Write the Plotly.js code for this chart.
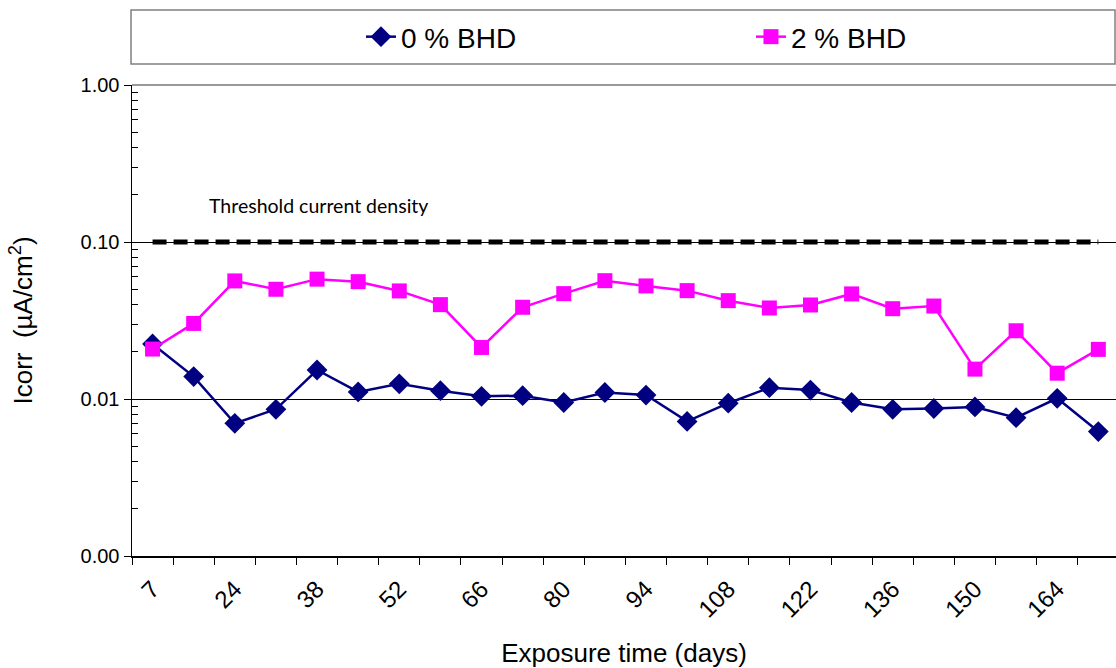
<!DOCTYPE html>
<html>
<head>
<meta charset="utf-8">
<script src="https://cdn.plot.ly/plotly-3.0.1.min.js"></script>
<style>html,body{margin:0;padding:0;background:#fff;}#chart{width:1116px;height:668px;}</style>
</head>
<body>
<div id="chart"></div>
<script>
// Exposure time categories (days)
const days = ["7","14","24","31","38","45","52","59","66","73","80","87","94","101","108","115","122","129","136","143","150","157","164","171"];
const dayLabels = ["7","","24","","38","","52","","66","","80","","94","","108","","122","","136","","150","","164",""];
// Icorr (µA/cm²)
const bhd0 = [0.0224,0.0139,0.0070,0.0086,0.0153,0.0111,0.0125,0.0113,0.0104,0.0105,0.0095,0.0110,0.0106,0.0072,0.0094,0.0118,0.0114,0.0095,0.0086,0.0087,0.0089,0.0076,0.0101,0.0062];
const bhd2 = [0.0208,0.0303,0.0565,0.0500,0.0580,0.0559,0.0488,0.0399,0.0213,0.0384,0.0469,0.0567,0.0525,0.0490,0.0423,0.0380,0.0397,0.0467,0.0376,0.0391,0.0155,0.0272,0.0146,0.0207];
const threshold = days.map(() => 0.1);
const yTickVals = [0.001, 0.01, 0.1, 1];
const yTickText = ["0.00", "0.01", "0.10", "1.00"];
const yMinorVals = [0.002,0.003,0.004,0.005,0.006,0.007,0.008,0.009,
                    0.02,0.03,0.04,0.05,0.06,0.07,0.08,0.09,
                    0.2,0.3,0.4,0.5,0.6,0.7,0.8,0.9];

const font = "'Liberation Sans', Arial, sans-serif";

const traces = [
  {x: days, y: threshold, type: "scatter", mode: "lines", showlegend: false,
   line: {color: "#000000", width: 5, dash: "14px,7px"}, hoverinfo: "skip"},
  {x: days, y: bhd0, type: "scatter", mode: "lines+markers", name: "0 % BHD",
   line: {color: "#000080", width: 2.5},
   marker: {symbol: "diamond", size: 16, color: "#000080"}},
  {x: days, y: bhd2, type: "scatter", mode: "lines+markers", name: "2 % BHD",
   line: {color: "#FF00FF", width: 2.5},
   marker: {symbol: "square", size: 15, color: "#FF00FF"}}
];

const layout = {
  width: 1116, height: 668,
  margin: {l: 132, r: 0, t: 85, b: 112, pad: 0, autoexpand: false},
  paper_bgcolor: "#ffffff", plot_bgcolor: "#ffffff",
  font: {family: font, color: "#000", size: 22},
  showlegend: true,
  legend: {orientation: "h", x: 0.2327, xanchor: "left", y: 1.102, yanchor: "middle",
           font: {family: font, size: 28, color: "#000"}, entrywidth: 345, entrywidthmode: "pixels",
           bgcolor: "rgba(0,0,0,0)", borderwidth: 0},
  xaxis: {type: "category", range: [-0.5, 23.43], tickmode: "array", tickvals: days, ticktext: dayLabels,
          tickson: "boundaries", ticks: "outside", ticklen: 7, tickcolor: "#000", tickwidth: 1,
          showline: true, linecolor: "#000", linewidth: 1.5, showgrid: false, zeroline: false,
          tickangle: -45, ticklabelstandoff: 8, tickfont: {family: font, size: 24, color: "#000"},
          title: {text: "Exposure time (days)", font: {family: font, size: 26, color: "#000"}, standoff: 22}},
  yaxis: {type: "log", range: [-3, 0], tickmode: "array", tickvals: yTickVals, ticktext: yTickText,
          ticks: "outside", ticklen: 7, tickcolor: "#000", tickwidth: 1,
          showline: true, linecolor: "#000", linewidth: 1.5, showgrid: true, gridcolor: "#000", gridwidth: 1,
          zeroline: false, tickfont: {family: font, size: 20, color: "#000"},
          title: {text: "Icorr  (µA/cm<sup>2</sup>)", font: {family: font, size: 26, color: "#000"}, standoff: 40},
          minor: {tickmode: "array", tickvals: yMinorVals, ticks: "inside", ticklen: 6, tickcolor: "#000", tickwidth: 1, showgrid: false}},
  shapes: [
    {type: "rect", xref: "paper", yref: "paper", x0: -0.001, x1: 0.999, y0: 1.0446, y1: 1.159,
     line: {color: "#808080", width: 1.5}, fillcolor: "rgba(0,0,0,0)"},
    {type: "line", xref: "paper", yref: "paper", x0: 0, x1: 1, y0: 1, y1: 1,
     line: {color: "#999999", width: 2}}
  ],
  annotations: [
    {text: "Threshold current density", xref: "paper", yref: "paper", x: 0.0762, y: 0.745,
     xanchor: "left", yanchor: "middle", showarrow: false,
     font: {family: "Lato, Carlito, sans-serif", size: 19.5, color: "#000"}}
  ]
};

Plotly.newPlot("chart", traces, layout, {displayModeBar: false, staticPlot: true});
</script>
</body>
</html>
